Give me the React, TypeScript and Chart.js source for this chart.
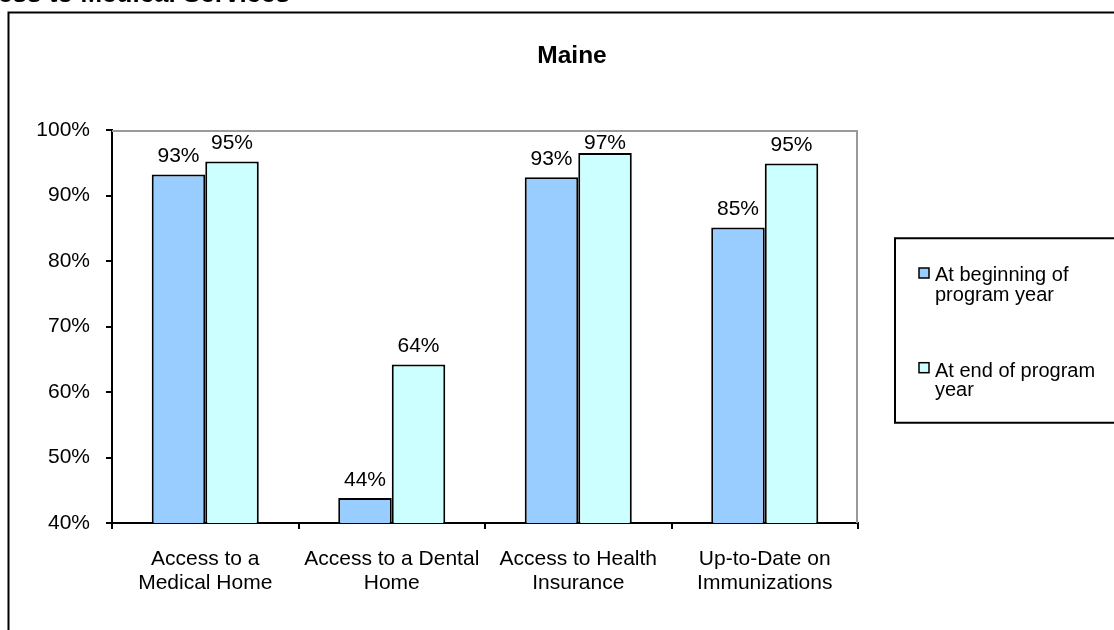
import React, { useEffect, useRef } from "react";
import { Chart, registerables } from "chart.js";

Chart.register(...registerables);

const pageHeading = "Access to Medical Services";
const chartTitle = "Maine";
const categories = [
  ["Access to a", "Medical Home"],
  ["Access to a Dental", "Home"],
  ["Access to Health", "Insurance"],
  ["Up-to-Date on", "Immunizations"],
];
const seriesNames = [
  ["At beginning of", "program year"],
  ["At end of program", "year"],
];
const beginningValues = [93.2, 43.8, 92.8, 85.1];
const endValues = [95.2, 64.2, 96.5, 94.9];
const yMin = 40;
const yMax = 100;
const yStep = 10;

const FONT = '"Liberation Sans", Arial, sans-serif';
const COLORS = ["#99CCFF", "#CCFFFF"];

const extras = {
  id: "extras",
  afterDatasetsDraw(chart: any) {
    const ctx = chart.ctx;
    const ca = chart.chartArea;
    ctx.save();
    ctx.fillStyle = "#000";
    ctx.font = `21px ${FONT}`;
    ctx.textAlign = "center";
    ctx.textBaseline = "alphabetic";
    chart.data.datasets.forEach((ds: any, di: number) => {
      const meta = chart.getDatasetMeta(di);
      meta.data.forEach((el: any, i: number) => {
        const v = ds.data[i];
        const y = Math.max(ca.top + 19, el.y - 12.5);
        ctx.fillText(Math.round(v) + "%", el.x, y);
      });
    });
    ctx.restore();
  },
  afterDraw(chart: any) {
    const ctx = chart.ctx;
    const ca = chart.chartArea;
    ctx.save();
    // outer frame
    ctx.strokeStyle = "#000";
    ctx.lineWidth = 2;
    ctx.beginPath();
    ctx.moveTo(8.5, 700);
    ctx.lineTo(8.5, 12.5);
    ctx.lineTo(1200, 12.5);
    ctx.stroke();
    // page heading (cut off at top)
    ctx.fillStyle = "#000";
    ctx.font = `bold 26px ${FONT}`;
    ctx.textAlign = "right";
    ctx.textBaseline = "alphabetic";
    ctx.fillText(pageHeading, 290, 1.5);
    // chart title
    ctx.font = `bold 24.5px ${FONT}`;
    ctx.textAlign = "center";
    ctx.fillText(chartTitle, 572, 62.5);
    // plot area gray border (top and right)
    ctx.strokeStyle = "#9a9a9a";
    ctx.lineWidth = 2;
    ctx.beginPath();
    ctx.moveTo(ca.left, ca.top + 1);
    ctx.lineTo(ca.right - 1, ca.top + 1);
    ctx.lineTo(ca.right - 1, ca.bottom);
    ctx.stroke();
    // legend box
    ctx.strokeStyle = "#000";
    ctx.lineWidth = 2;
    ctx.beginPath();
    ctx.moveTo(1200, 238.3);
    ctx.lineTo(895, 238.3);
    ctx.lineTo(895, 422.7);
    ctx.lineTo(1200, 422.7);
    ctx.stroke();
    // legend entries
    const markerY = [268, 362.7];
    const baselines = [
      [281, 301],
      [377, 396],
    ];
    seriesNames.forEach((lines, si) => {
      ctx.fillStyle = COLORS[si];
      ctx.fillRect(919, markerY[si], 10, 10);
      ctx.strokeStyle = "#000";
      ctx.lineWidth = 1.5;
      ctx.strokeRect(919, markerY[si], 10, 10);
      ctx.fillStyle = "#000";
      ctx.font = `20px ${FONT}`;
      ctx.textAlign = "left";
      lines.forEach((t, li) => ctx.fillText(t, 935, baselines[si][li]));
    });
    ctx.restore();
  },
};

export default function App() {
  const ref = useRef<HTMLCanvasElement | null>(null);
  useEffect(() => {
    if (!ref.current) return;
    const chart = new Chart(ref.current, {
      type: "bar",
      data: {
        labels: categories,
        datasets: [
          {
            label: seriesNames[0].join(" "),
            data: beginningValues,
            backgroundColor: COLORS[0],
            borderColor: "#000",
            borderWidth: 2,
          },
          {
            label: seriesNames[1].join(" "),
            data: endValues,
            backgroundColor: COLORS[1],
            borderColor: "#000",
            borderWidth: 2,
          },
        ],
      },
      options: {
        responsive: false,
        animation: false,
        layout: { padding: { left: 0, top: 130, right: 256, bottom: 0 } },
        plugins: {
          legend: { display: false },
          title: { display: false },
          tooltip: { enabled: false },
        },
        datasets: {
          bar: { categoryPercentage: 0.574, barPercentage: 1 },
        },
        scales: {
          x: {
            offset: true,
            grid: {
              offset: true,
              drawOnChartArea: false,
              drawTicks: true,
              tickLength: 6,
              color: "#000",
              lineWidth: 2,
            },
            border: { display: true, color: "#000", width: 2 },
            ticks: {
              color: "#000",
              font: { family: FONT, size: 21, lineHeight: 1.143 },
              padding: 18,
              maxRotation: 0,
              autoSkip: false,
            },
            afterFit: (s: any) => {
              s.height = 107;
            },
          },
          y: {
            min: yMin,
            max: yMax,
            grid: {
              drawOnChartArea: false,
              drawTicks: true,
              tickLength: 6,
              color: "#000",
              lineWidth: 2,
            },
            border: { display: true, color: "#000", width: 2 },
            ticks: {
              stepSize: yStep,
              color: "#000",
              font: { family: FONT, size: 21 },
              padding: 16,
              callback: (v: any) => v + "%",
            },
            afterFit: (s: any) => {
              s.width = 112;
            },
          },
        },
      },
      plugins: [extras],
    });
    return () => chart.destroy();
  }, []);
  return (
    <div style={{ position: "fixed", left: 0, top: 0, width: 1114, height: 630, background: "#fff" }}>
      <canvas ref={ref} width={1114} height={630} style={{ display: "block" }} />
    </div>
  );
}
